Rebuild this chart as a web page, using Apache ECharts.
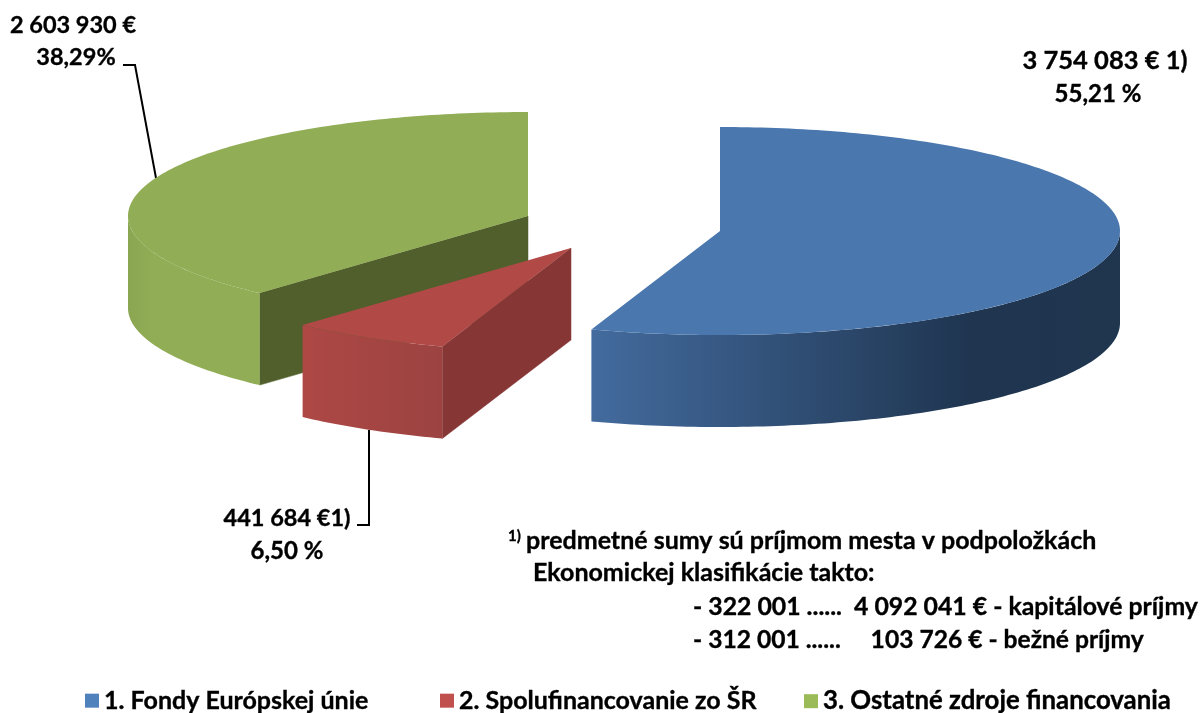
<!DOCTYPE html>
<html><head><meta charset="utf-8">
<style>html,body{margin:0;padding:0;background:#fff}#c{width:1202px;height:713px}</style>
<script src="https://cdn.jsdelivr.net/npm/echarts@6/dist/echarts.min.js"></script>
</head><body><div id="c"></div>
<script>
const categories = ['1. Fondy Európskej únie', '2. Spolufinancovanie zo ŠR', '3. Ostatné zdroje financovania'];
const values = [3754083, 441684, 2603930];
const amountLabels = ['3 754 083 € 1)', '441 684 €1)', '2 603 930 €'];
const percentLabels = ['55,21 %', '6,50 %', '38,29%'];
const noteLines = ['predmetné sumy sú príjmom mesta v podpoložkách', 'Ekonomickej klasifikácie takto:',
  '- 322 001 ......  4 092 041 € - kapitálové príjmy', '- 312 001 ......     103 726 € - bežné príjmy'];

const FONT = 'Lato, "Open Sans", sans-serif';
const legendColors = ['#4f81bd', '#c0504d', '#9bbb59'];
const topColors = ['#4a77ae', '#b14a47', '#91ad55'];
const wallColors = ['#1f3550', '#873636', '#505f2c'];
const sideStops = [
  [[0, '#436b9e'], [0.72, '#1f3550'], [1, '#20364f']],
  [[0, '#ad4845'], [1, '#9c4341']],
  [[0, '#8aa651'], [0.2, '#91ad55'], [1, '#91ad55']]
];
const RX = 400, RY = 104, DEPTH = 92;
const centers = [[720, 231], [571, 248], [528, 216]];
const total = values.reduce((a, b) => a + b, 0);
const cum = [];
values.reduce((a, v, i) => (cum[i] = a, a + v), 0);

function pt(c, deg, dz) {
  const r = deg * Math.PI / 180;
  return [c[0] + RX * Math.sin(r), c[1] - RY * Math.cos(r) + (dz || 0)];
}
function arc(c, a0, a1, dz) {
  const out = [], n = Math.max(2, Math.ceil(Math.abs(a1 - a0)));
  for (let i = 0; i <= n; i++) out.push(pt(c, a0 + (a1 - a0) * i / n, dz));
  return out;
}
function renderSlice(params) {
  const i = params.seriesIndex === 0 ? 0 : params.seriesIndex === 1 ? 2 : 1;
  const c = centers[i];
  const a0 = cum[i] / total * 360, a1 = (cum[i] + values[i]) / total * 360;
  const kids = [];
  if (i > 0) {
    const e = pt(c, a0);
    kids.push({ type: 'polygon', shape: { points: [c, e, [e[0], e[1] + DEPTH], [c[0], c[1] + DEPTH]] },
      style: { fill: wallColors[i], stroke: wallColors[i], lineWidth: 0.5 } });
  }
  const s0 = Math.max(a0, 90), s1 = Math.min(a1, 270);
  if (s1 > s0) {
    const pts = arc(c, s0, s1, 0).concat(arc(c, s1, s0, DEPTH));
    const xs = pts.map(p => p[0]);
    const x0 = Math.min.apply(null, xs), x1 = Math.max.apply(null, xs);
    kids.push({ type: 'polygon', shape: { points: pts },
      style: { fill: new echarts.graphic.LinearGradient(x0, 0, x1, 0,
        sideStops[i].map(s => ({ offset: s[0], color: s[1] })), true) } });
  }
  kids.push({ type: 'polygon', shape: { points: [c].concat(arc(c, a0, a1, 0)) },
    style: { fill: topColors[i] } });
  return { type: 'group', children: kids };
}
const order = [0, 2, 1];
const series = order.map(i => ({
  type: 'custom', name: categories[i], coordinateSystem: 'none', silent: true,
  itemStyle: { color: legendColors[i] }, renderItem: renderSlice, data: [values[i]]
}));
const legendLeft = [80, 435, 799];
const legendSize = [25, 25, 25.8];
const legend = categories.map((n, i) => ({
  data: [n], left: legendLeft[i], top: 683, itemWidth: 14, itemHeight: 14, itemGap: 7, icon: 'rect',
  selectedMode: false, textStyle: { fontFamily: FONT, fontWeight: 'bold', fontSize: legendSize[i], color: '#000',
    textBorderColor: '#000', textBorderWidth: 0.35 }
}));
function txt(x, y, t, align, size) {
  return { type: 'text', x: x, y: y, silent: true, style: { text: t, align: align || 'center', verticalAlign: 'middle',
    fontFamily: FONT, fontWeight: 'bold', fontSize: size || 25, fill: '#000', stroke: '#000', lineWidth: 0.35 } };
}
function ln(pts) {
  return { type: 'polyline', silent: true, shape: { points: pts }, style: { stroke: '#000', lineWidth: 2, fill: null } };
}
const graphic = [
  txt(1105, 61, amountLabels[0], 'center', 25.5), txt(1098, 94, percentLabels[0], 'center', 24),
  txt(287, 518, amountLabels[1], 'center', 23.5), txt(287, 551, percentLabels[1], 'center', 24),
  txt(73, 25, amountLabels[2], 'center', 23.5), txt(76, 57, percentLabels[2], 'center', 23.5),
  ln([[123, 65], [135, 65], [156, 178]]), ln([[357, 525], [369, 525], [369, 430]]),
  txt(508, 536, '1)', 'left', 15),
  txt(526, 541, noteLines[0], 'left'), txt(533, 573, noteLines[1], 'left'),
  txt(693, 607, noteLines[2], 'left', 24.8), txt(693, 640, noteLines[3], 'left', 24.6)
];
const chart = echarts.init(document.getElementById('c'));
chart.setOption({ animation: false, backgroundColor: '#fff', legend, series, graphic: { elements: graphic } });
</script></body></html>
